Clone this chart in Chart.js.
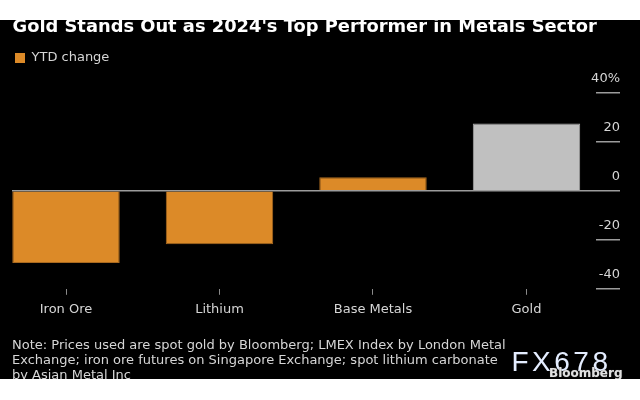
<!DOCTYPE html>
<html>
<head>
<meta charset="utf-8">
<script src="https://cdn.jsdelivr.net/npm/chart.js@4.4.1/dist/chart.umd.min.js"></script>
<style>
html,body{margin:0;padding:0;background:#fff;width:640px;height:400px;overflow:hidden;}
#wrap{position:absolute;left:0;top:20px;width:640px;height:359px;background:#000;overflow:hidden;}
#chart{position:absolute;left:0;top:0;}
#title{position:absolute;left:12.5px;top:-2.8px;font:bold 17.85px/17.85px "DejaVu Sans";color:#fff;white-space:nowrap;}
#note{position:absolute;left:12px;top:317.3px;font:13px/15px "DejaVu Sans";color:#d6d6d6;white-space:nowrap;}
#fx{position:absolute;left:511.5px;top:328px;font:28px/28px "Liberation Sans";letter-spacing:3.5px;color:#e4edff;white-space:nowrap;}
#bb{position:absolute;left:549px;top:346.8px;font:bold 12px/12px "DejaVu Sans";color:#e0e0e0;white-space:nowrap;text-shadow:0 0 1px #555;}
</style>
</head>
<body>
<div id="wrap">
  <canvas id="chart" width="640" height="359"></canvas>
  <div id="title">Gold Stands Out as 2024's Top Performer in Metals Sector</div>
  <div id="note">Note: Prices used are spot gold by Bloomberg; LMEX Index by London Metal<br>Exchange; iron ore futures on Singapore Exchange; spot lithium carbonate<br>by Asian Metal Inc</div>
  <div id="fx">FX678</div>
  <div id="bb">Bloomberg</div>
</div>
<script>
const categories = ['Iron Ore', 'Lithium', 'Base Metals', 'Gold'];
const ytdChange = [-29.5, -21.8, 5.5, 27.4];
const yTickValues = [-40, -20, 0, 20, 40];
const seriesLabel = 'YTD change';

const ORANGE = '#dc8a28';
const ORANGE_EDGE = '#a9691f';
const GREY = '#c0c0c0';
const TEXT = '#d6d6d6';
const LINE = '#9c9c9c';
const FONT = {family: 'DejaVu Sans', size: 13};

const legendSpacer = {
  id: 'legendSpacer',
  beforeInit(chart) {
    const lg = chart.legend;
    if (!lg) return;
    const orig = lg.fit;
    lg.fit = function () { orig.call(this); this.height = 44; };
  }
};

new Chart(document.getElementById('chart'), {
  type: 'bar',
  data: {
    datasets: [{
      label: seriesLabel,
      data: ytdChange.map((v, i) => ({x: i, y: v})),
      backgroundColor: ctx => categories[ctx.dataIndex] === 'Gold' ? GREY : ORANGE,
      borderColor: ctx => categories[ctx.dataIndex] === 'Gold' ? '#a8a8a8' : ORANGE_EDGE,
      borderWidth: 1,
      borderSkipped: 'start',
      barPercentage: 0.7,
      categoryPercentage: 1
    }]
  },
  plugins: [legendSpacer],
  options: {
    responsive: false,
    animation: false,
    layout: {padding: {left: 12, right: 20, top: 28.5, bottom: 54.6}},
    plugins: {
      tooltip: {enabled: false},
      legend: {
        position: 'top',
        align: 'start',
        labels: {
          boxWidth: 10, boxHeight: 10, padding: 3, color: TEXT, font: FONT,
          generateLabels: chart => [{
            text: chart.data.datasets[0].label,
            fillStyle: ORANGE, strokeStyle: ORANGE, lineWidth: 0,
            hidden: false, datasetIndex: 0, fontColor: TEXT
          }]
        }
      }
    },
    scales: {
      x: {
        type: 'linear',
        min: -0.3518,
        max: 3.4528,
        offset: false,
        ticks: {
          stepSize: 1, includeBounds: false, autoSkip: false, maxRotation: 0,
          color: TEXT, font: FONT, padding: 7,
          callback: v => (Number.isInteger(v) && categories[v] !== undefined) ? categories[v] : ''
        },
        grid: {
          offset: false,
          drawOnChartArea: false, drawTicks: true, tickLength: 6,
          tickColor: '#8a8a8a', tickWidth: 1, color: 'transparent'
        },
        border: {display: false}
      },
      y: {
        position: 'right',
        min: -40, max: 40,
        afterBuildTicks: s => { s.ticks = yTickValues.map(v => ({value: v})); },
        afterFit: s => { s.width = 24; },
        ticks: {
          mirror: true, crossAlign: 'near', labelOffset: -14, padding: 24,
          color: TEXT, font: FONT,
          callback: v => v === 40 ? v + '%' : String(v)
        },
        grid: {
          drawOnChartArea: true, drawTicks: true, tickLength: 24,
          color: ctx => (ctx.tick && ctx.tick.value === 0) ? LINE : 'transparent',
          lineWidth: 1.5,
          tickColor: LINE, tickWidth: 1.5
        },
        border: {display: false}
      }
    }
  }
});
</script>
</body>
</html>
